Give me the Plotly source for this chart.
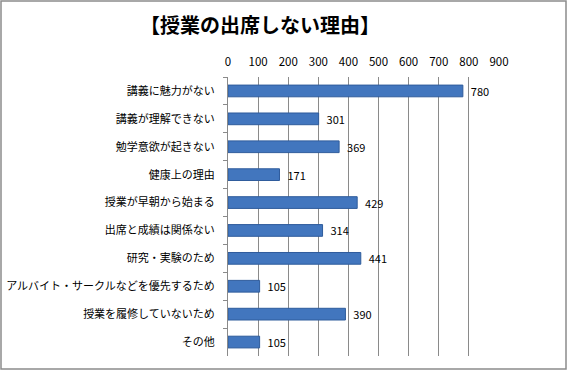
import plotly.graph_objects as go

categories = ["講義に魅力がない", "講義が理解できない", "勉学意欲が起きない", "健康上の理由",
              "授業が早朝から始まる", "出席と成績は関係ない", "研究・実験のため",
              "アルバイト・サークルなどを優先するため", "授業を履修していないため", "その他"]
values = [780, 301, 369, 171, 429, 314, 441, 105, 390, 105]
x_ticks = [0, 100, 200, 300, 400, 500, 600, 700, 800, 900]

W, H = 568, 371
ML, MR, MT, MB = 228, 69, 77, 15
pw, ph = W - ML - MR, H - MT - MB

fig = go.Figure(go.Bar(
    y=categories, x=values, orientation="h",
    marker=dict(color="#4276BE", line=dict(color="#2F5C9C", width=1)),
    width=0.42,
    text=["  " + str(v) for v in values], textposition="outside",
    constraintext="none",
    textfont=dict(size=11, color="#000000", family="Noto Sans CJK JP"),
    cliponaxis=False,
))

fig.update_layout(
    width=W, height=H,
    margin=dict(l=ML, r=MR, t=MT, b=MB, autoexpand=False),
    paper_bgcolor="white", plot_bgcolor="white",
    font=dict(family="Noto Sans CJK JP", size=11, color="#000000"),
    title=dict(text="<b>【授業の出席しない理由】</b>", x=260 / W, xanchor="center", xref="container",
               y=1 - 26 / H, yanchor="middle",
               font=dict(size=20, family="Noto Sans CJK JP")),
    showlegend=False,
    shapes=[dict(type="rect", xref="paper", yref="paper",
                 x0=(1 - ML) / pw, x1=(W - 2 - ML) / pw,
                 y0=-(MB - 2) / ph, y1=1 + (MT - 1) / ph,
                 line=dict(color="#8C8C8C", width=1.5))],
)
fig.update_xaxes(side="top", range=[0, 900], tickvals=x_ticks, showgrid=True,
                 gridcolor="#8A8A8A", gridwidth=1, zeroline=False, showline=False,
                 ticks="", tickfont=dict(size=11.5), ticklabelstandoff=8, automargin=False)
fig.update_yaxes(autorange="reversed", showline=True, linecolor="#8A8A8A",
                 ticks="outside", tickson="boundaries", ticklen=4, tickcolor="#8A8A8A",
                 tickfont=dict(size=11), ticklabelstandoff=10, automargin=False)

fig.write_html("out.html", config={"displayModeBar": False},
               post_script="document.body.style.margin='0';document.body.style.overflow='hidden';")
